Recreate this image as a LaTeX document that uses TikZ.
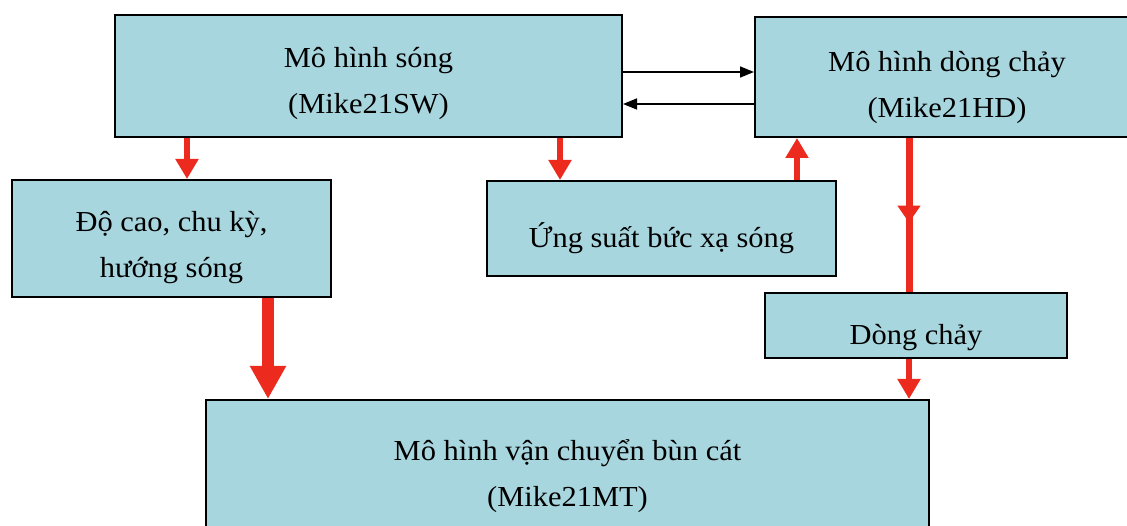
\documentclass[tikz,border=0pt]{standalone}
\usepackage{fontspec}
\setmainfont[FakeStretch=1.05]{Liberation Serif}
\usetikzlibrary{arrows.meta,calc,positioning,decorations.markings}
\definecolor{boxblue}{HTML}{A8D6DF}
\definecolor{flowred}{HTML}{EC2A1E}
\tikzset{
  blk/.style={rectangle,draw,line width=2pt,fill=boxblue,align=center,
    font=\fontsize{29}{46}\selectfont},
  lowtxt/.style={text height=#1},
  lowtxt/.default=44pt,
  flow/.style={-{Triangle[width=11pt,length=14pt]},line width=1.6pt},
  feed/.style={-{Triangle[width=22pt,length=20pt]},line width=6pt,flowred},
  bigfeed/.style={-{Triangle[width=34pt,length=33pt]},line width=12pt,flowred},
  midfeed/.style={line width=7pt,flowred,postaction=decorate,
    decoration={markings,mark=at position 0.55 with {\arrow{Triangle[width=22pt,length=17pt]}}}}
}
\begin{document}
\begin{tikzpicture}[x=1pt,y=-1pt]
\useasboundingbox[fill=white] (0,0) rectangle (1127,526);
\clip (0,0) rectangle (1127,526);
\node[blk,lowtxt=82pt,minimum width=507pt,minimum height=122pt] (sw) at (368.5,76) {Mô hình sóng\\(Mike21SW)};
\node[blk,lowtxt=88pt,minimum width=384pt,minimum height=120pt] (hd) at (947,77) {Mô hình dòng chảy\\(Mike21HD)};
\node[blk,lowtxt=84pt,minimum width=319pt,minimum height=117pt] (wave) at (171.5,238.5) {Độ cao, chu kỳ,\\hướng sóng};
\node[blk,lowtxt,minimum width=349pt,minimum height=95pt] (stress) at (661.5,228.5) {Ứng suất bức xạ sóng};
\node[blk,lowtxt,minimum width=302pt,minimum height=65pt] (cur) at (916,325.5) {Dòng chảy};
\node[blk,minimum width=723pt,minimum height=152pt] (mt) at (567.5,476) {Mô hình vận chuyển bùn cát\\(Mike21MT)};

\draw[flow] ([yshift=4pt]sw.east) -- ([yshift=4pt]sw.east -| hd.west);
\draw[flow] ([yshift=-28pt]sw.east -| hd.west) -- ([yshift=-28pt]sw.east);

\draw[feed] (187,0 |- sw.south) -- (187,0 |- wave.north);
\draw[feed] (560,0 |- sw.south) -- (560,0 |- stress.north);
\draw[feed] (797,0 |- stress.north) -- (797,0 |- hd.south);
\draw[midfeed] (909,0 |- hd.south) -- (909,0 |- cur.north);
\draw[feed] (909,0 |- cur.south) -- (909,0 |- mt.north);
\draw[bigfeed] (268,0 |- wave.south) -- (268,0 |- mt.north);
\end{tikzpicture}
\end{document}
